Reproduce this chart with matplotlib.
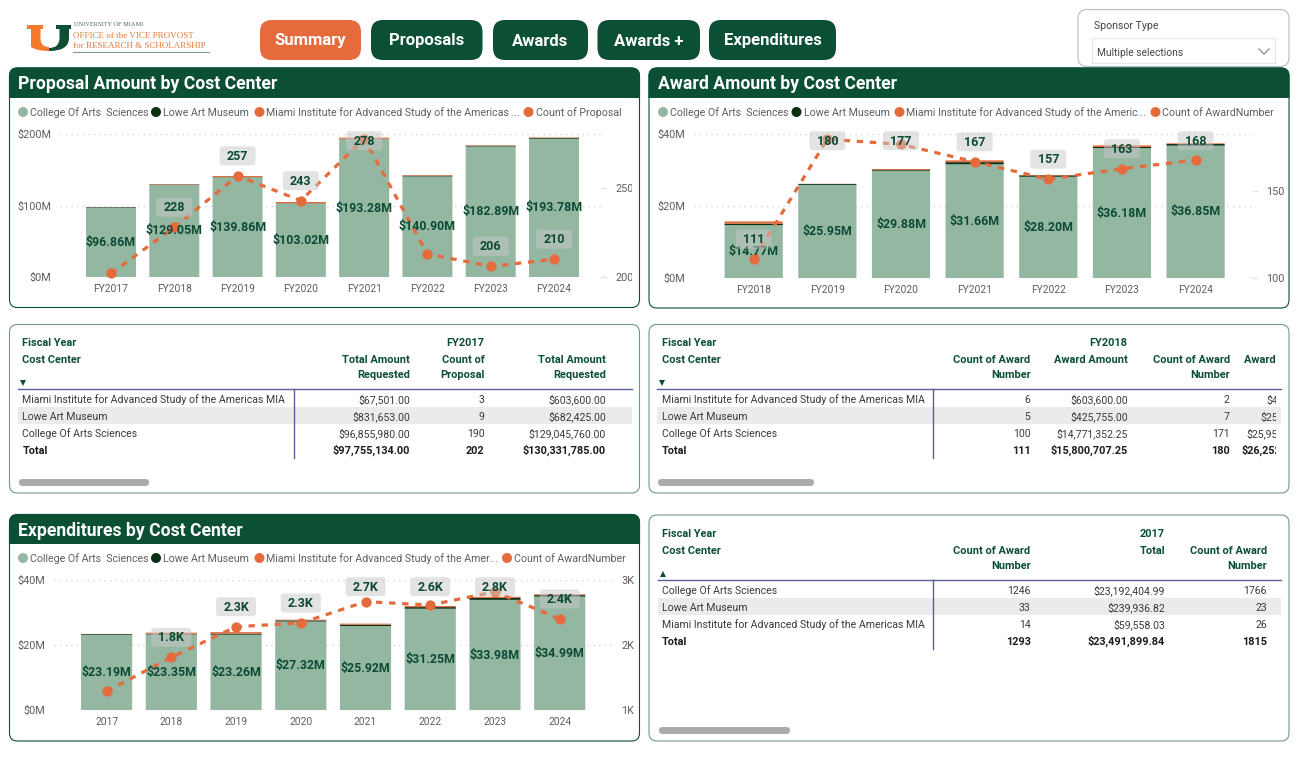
import matplotlib
matplotlib.use('Agg')
import matplotlib.pyplot as plt
from matplotlib.patches import FancyBboxPatch, PathPatch, Rectangle, Circle
from matplotlib.path import Path
from matplotlib.transforms import IdentityTransform
import numpy as np

W, H = 1303, 771
GREEN = '#0B5034'
ORANGE = '#E56B3D'
SAGE = '#94B7A2'
DARK = '#0A3014'
GREY = '#605E5C'

plt.rcParams['font.family'] = ['Roboto', 'DejaVu Sans']

# proposal chart
prop_years = ['FY2017', 'FY2018', 'FY2019', 'FY2020', 'FY2021', 'FY2022', 'FY2023', 'FY2024']
prop_college = [96.86, 129.05, 139.86, 103.02, 193.28, 140.90, 182.89, 193.78]
prop_lowe = [0.83, 0.68, 0.3, 0.4, 0.4, 1.2, 1.0, 1.1]
prop_miami = [0.07, 0.60, 1.4, 1.7, 1.6, 0.8, 0.7, 0.7]
prop_count = [202, 228, 257, 243, 278, 213, 206, 210]
prop_count_labels = [None, '228', '257', '243', '278', None, '206', '210']

# award chart
award_years = ['FY2018', 'FY2019', 'FY2020', 'FY2021', 'FY2022', 'FY2023', 'FY2024']
award_college = [14.77, 25.95, 29.88, 31.66, 28.20, 36.18, 36.85]
award_lowe = [0.43, 0.25, 0.2, 0.6, 0.4, 0.3, 0.45]
award_miami = [0.60, 0.05, 0.28, 0.5, 0.1, 0.45, 0.2]
award_count = [111, 180, 177, 167, 157, 163, 168]
award_count_labels = ['111', '180', '177', '167', '157', '163', '168']

# expenditures chart
exp_years = ['2017', '2018', '2019', '2020', '2021', '2022', '2023', '2024']
exp_college = [23.19, 23.35, 23.26, 27.32, 25.92, 31.25, 33.98, 34.99]
exp_lowe = [0.24, 0.2, 0.35, 0.35, 0.45, 0.5, 0.6, 0.45]
exp_miami = [0.06, 0.35, 0.45, 0.2, 0.3, 0.35, 0.35, 0.25]
exp_count = [1293, 1815, 2286, 2343, 2671, 2620, 2825, 2405]
exp_count_labels = [None, '1.8K', '2.3K', '2.3K', '2.7K', '2.6K', '2.8K', '2.4K']

# tables
miami_name = 'Miami Institute for Advanced Study of the Americas MIA'
prop_table = [
    [miami_name, '$67,501.00', '3', '$603,600.00'],
    ['Lowe Art Museum', '$831,653.00', '9', '$682,425.00'],
    ['College Of Arts Sciences', '$96,855,980.00', '190', '$129,045,760.00'],
    ['Total', '$97,755,134.00', '202', '$130,331,785.00'],
]
award_table = [
    [miami_name, '6', '$603,600.00', '2', '$45,000.00'],
    ['Lowe Art Museum', '5', '$425,755.00', '7', '$253,000.00'],
    ['College Of Arts Sciences', '100', '$14,771,352.25', '171', '$25,950,000.00'],
    ['Total', '111', '$15,800,707.25', '180', '$26,252,000.00'],
]
exp_table = [
    ['College Of Arts Sciences', '1246', '$23,192,404.99', '1766'],
    ['Lowe Art Museum', '33', '$239,936.82', '23'],
    [miami_name, '14', '$59,558.03', '26'],
    ['Total', '1293', '$23,491,899.84', '1815'],
]

fig = plt.figure(figsize=(W / 100, H / 100), dpi=100, facecolor='white')


def pixel_axes(zorder):
    a = fig.add_axes([0, 0, 1, 1], zorder=zorder)
    a.set_xlim(0, W)
    a.set_ylim(H, 0)
    a.axis('off')
    return a


back = pixel_axes(0)
top = pixel_axes(10)


def round_box(a, x0, y0, x1, y1, r, **kw):
    p = FancyBboxPatch((x0, y0), x1 - x0, y1 - y0,
                       boxstyle='round,pad=0,rounding_size=%g' % r, **kw)
    a.add_patch(p)
    return p


def pixel_clip(x0, y0, x1, y1):
    return Rectangle((x0, H - y1), x1 - x0, y1 - y0, transform=IdentityTransform())


def chart_panel(x0, y0, x1, y1, title):
    round_box(back, x0, y0, x1, y1, 8, fc='white', ec=GREEN, lw=0.8)
    head = round_box(back, x0, y0, x1, y1, 8, fc=GREEN, ec=GREEN, lw=0.8)
    head.set_clip_path(pixel_clip(x0 - 2, y0 - 2, x1 + 2, y0 + 29.5))
    back.text(x0 + 8.5, y0 + 21, title, color='white', fontsize=12.7, fontweight='bold',
              va='baseline', ha='left')


def legend(y, items):
    for (cx, label), c in zip(items, [SAGE, DARK, ORANGE, ORANGE]):
        back.add_patch(Circle((cx, y), 5, fc=c, ec='none'))
        back.text(cx + 7, y + 0.8, label, color=GREY, fontsize=7.7, va='center', ha='left')


def combo(box, first, last, years, college, lowe, miami, count, count_labels, ymax, yticks, yfmt,
          rlim, rticks, rlabels, bubble_w, bubble_top, tick_len=4.3, clip_right=None):
    x0, y0, x1, y1 = box
    ax = fig.add_axes([x0 / W, 1 - y1 / H, (x1 - x0) / W, (y1 - y0) / H], zorder=2)
    n = len(years)
    band = (last - first) / (n - 1)
    ax.set_xlim(-(first - x0) / band, n - 1 + (x1 - last) / band)
    ax.set_ylim(0, ymax)
    pos = np.arange(n)
    college = np.array(college)
    lowe = np.array(lowe)
    miami = np.array(miami)
    for vals, bottom, c in ((college, 0, SAGE), (lowe, college, DARK), (miami, college + lowe, ORANGE)):
        for bar in ax.bar(pos, vals, 0.79, bottom=bottom, color=c):
            bar.set_snap(False)
    ax.set_xticks(pos, years)
    ax.set_yticks(yticks, [yfmt % v for v in yticks])
    ax.tick_params(axis='x', length=0, pad=4.7, labelsize=7.4, labelcolor=GREY)
    ax.tick_params(axis='y', length=0, pad=6, labelsize=7.8, labelcolor=GREY)
    ax.yaxis.grid(True, linestyle=(0, (1, 3)), color='#D4D4D4', lw=1)
    ax.set_axisbelow(True)
    for sp in ax.spines.values():
        sp.set_visible(False)

    ax2 = ax.twinx()
    ax2.set_ylim(*rlim)
    ax2.set_yticks(rticks, rlabels)
    ax2.tick_params(axis='y', length=tick_len, width=1, color='#E2E2E2', pad=6.5,
                    labelsize=7.8, labelcolor=GREY)
    for sp in ax2.spines.values():
        sp.set_visible(False)
    if clip_right is not None:
        for lab in ax2.get_yticklabels():
            lab.set_clip_on(True)
            lab.set_clip_path(pixel_clip(x1, y0 - 10, clip_right, y1 + 10))
    ax2.plot(pos, count, color=ORANGE, lw=2.3, linestyle=(0, (2, 2.1)), clip_on=False, zorder=3)
    ax2.plot(pos, count, 'o', color=ORANGE, ms=7.4, mew=0, clip_on=False, zorder=4)

    # bar values sit in the middle of the college segment
    for i, v in enumerate(college):
        ax2.text(i, v / 2, '$%.2fM' % v, transform=ax.transData, color='#0B4A33',
                 fontsize=8.9, fontweight='bold', ha='center', va='center', zorder=5)

    # count bubbles, 20px over the point but kept under the plot top
    for i, lab in enumerate(count_labels):
        if lab is None:
            continue
        px, py = ax2.transData.transform((i, count[i]))
        py = H - py
        cy = max(py - 20, bubble_top)
        round_box(top, px - bubble_w / 2, cy - 9.5, px + bubble_w / 2, cy + 9.5, 3,
                  fc='#C8C8C8', ec='none', alpha=0.5)
        top.text(px, cy + 0.4, lab, color='#0B4A33', fontsize=9, fontweight='bold',
                 ha='center', va='center')
    return ax


def table_panel(x0, y0, x1, y1):
    round_box(back, x0, y0, x1, y1, 8, fc='white', ec='#6F9C87', lw=0.8)


def table(left, line_x1, vline, y_top, col_right, headers, top_label, top_right, rows, arrow, sb, clip_x=None):
    tx = left + 4.5
    clip = pixel_clip(left, y_top - 10, clip_x, y_top + 120) if clip_x else None

    def put(x, y, s, size, weight, color, ha='left'):
        # baseline anchored so "$" and plain digits line up
        t = back.text(x, y + 3.8, s, color=color, fontsize=size, fontweight=weight, va='baseline', ha=ha)
        if clip is not None and ha == 'right':
            t.set_clip_on(True)
            t.set_clip_path(clip)

    put(tx, y_top, 'Fiscal Year', 7.8, 'bold', GREEN)
    put(tx, y_top + 17, 'Cost Center', 7.9, 'bold', GREEN)
    put(top_right, y_top, top_label, 7.9, 'bold', GREEN, 'right')
    for xr, (h1, h2) in zip(col_right, headers):
        for dy, s in ((17, h1), (32, h2)):
            if s:
                put(xr, y_top + dy, s, 7.9, 'bold', GREEN, 'right')
    back.plot([tx + 0.5], [y_top + 41], arrow, color=GREEN, ms=4, mew=0)
    rule = y_top + 47
    back.plot([left, line_x1], [rule, rule], color='#5A5F96', lw=1)
    back.add_patch(Rectangle((left, rule + 17.7), line_x1 - left, 17, fc='#EBEBEB', ec='none'))
    back.plot([vline, vline], [rule, rule + 68.5], color='#5A5F96', lw=1)
    for r, row in enumerate(rows):
        y = rule + 10 + r * 17
        is_total = r == len(rows) - 1
        weight = 'bold' if is_total else 'normal'
        color = '#1C1C1C' if is_total else '#3A3A3A'
        size = 7.8 if is_total else 7.6
        put(tx, y, row[0], size, weight, color)
        for xr, s in zip(col_right, row[1:]):
            put(xr, y, s, size, weight, color, 'right')
    round_box(back, sb[0], sb[1], sb[2], sb[1] + 7, 3.5, fc='#ABABAB', ec='none')


# header strip: logo
back.add_patch(PathPatch(Path(
    [(27, 25), (43, 25), (43, 29), (40.5, 29), (40.5, 38), (40.5, 47), (49, 47), (49, 51),
     (37, 51), (31, 47), (31, 38), (31, 29), (27, 29), (27, 25)],
    [Path.MOVETO, Path.LINETO, Path.LINETO, Path.LINETO, Path.LINETO, Path.CURVE3, Path.CURVE3, Path.LINETO,
     Path.CURVE3, Path.CURVE3, Path.LINETO, Path.LINETO, Path.LINETO, Path.CLOSEPOLY]),
    fc='#F47B2C', ec='none'))
back.add_patch(PathPatch(Path(
    [(56, 25), (71, 25), (71, 29), (69, 29), (69, 38), (69, 51), (49, 51), (49, 48),
     (59.5, 48), (59.5, 38), (59.5, 29), (56, 29), (56, 25)],
    [Path.MOVETO, Path.LINETO, Path.LINETO, Path.LINETO, Path.LINETO, Path.CURVE3, Path.CURVE3, Path.LINETO,
     Path.CURVE3, Path.CURVE3, Path.LINETO, Path.LINETO, Path.CLOSEPOLY]),
    fc='#0B5034', ec='none'))
back.text(73.5, 25, 'UNIVERSITY OF MIAMI', family='Liberation Serif', color='#4D6B5C', fontsize=4.6, va='center')
back.text(73, 36, 'OFFICE of the VICE PROVOST', family='Liberation Serif', color='#E0783C', fontsize=6.5, va='center')
back.text(73, 45.5, 'for RESEARCH & SCHOLARSHIP', family='Liberation Serif', color='#E0783C', fontsize=6.45, va='center')
back.plot([73, 209], [52.3, 52.3], color='#7FA391', lw=0.8)

# nav buttons
buttons = [('Summary', 260, 361, ORANGE), ('Proposals', 371, 482.5, GREEN), ('Awards', 493, 588, GREEN),
           ('Awards +', 597.5, 700, GREEN), ('Expenditures', 709, 836, GREEN)]
for label, bx0, bx1, c in buttons:
    round_box(back, bx0, 20, bx1, 60, 12, fc=c, ec='none')
    back.text((bx0 + bx1) / 2, 45.5, label, color='white', fontsize=12, fontweight='bold',
              ha='center', va='baseline')

# slicer
round_box(back, 1078, 9.5, 1289, 66.5, 9, fc='white', ec='#BBBBBB', lw=0.8)
back.text(1094, 26, 'Sponsor Type', color='#444444', fontsize=7.6, va='center')
back.add_patch(Rectangle((1092, 38), 183, 24.5, fc='white', ec='#E8E8E8', lw=1))
back.text(1097, 52.8, 'Multiple selections', color='#444444', fontsize=7.4, va='center')
back.plot([1259, 1264, 1269], [49, 54, 49], color='#7C8A9A', lw=0.9)

# charts
chart_panel(9.5, 68, 639.5, 307.5, 'Proposal Amount by Cost Center')
legend(112, [(23, 'College Of Arts  Sciences'), (156, 'Lowe Art Museum'),
             (259.5, 'Miami Institute for Advanced Study of the Americas ...'), (528.5, 'Count of Proposal')])
combo((60, 134.3, 601, 277), 111, 554, prop_years, prop_college, prop_lowe, prop_miami,
      prop_count, prop_count_labels, 200, [0, 100, 200], '$%dM', (200, 280.4), [200, 250], ['200', '250'],
      36, 140.7, clip_right=631.5)

chart_panel(649, 68, 1289, 308, 'Award Amount by Cost Center')
legend(112, [(663, 'College Of Arts  Sciences'), (796.5, 'Lowe Art Museum'),
             (899.5, 'Miami Institute for Advanced Study of the Americ...'), (1155.5, 'Count of AwardNumber')])
combo((693.6, 134.3, 1251.6, 278.3), 753.7, 1195.6, award_years, award_college, award_lowe, award_miami,
      award_count, award_count_labels, 40, [0, 20, 40], '$%dM', (100, 182.8), [100, 150], ['100', '150'],
      36, 140.7)

chart_panel(9.5, 514.5, 639.5, 741, 'Expenditures by Cost Center')
legend(558, [(23, 'College Of Arts  Sciences'), (156, 'Lowe Art Museum'),
             (259.5, 'Miami Institute for Advanced Study of the Amer...'), (507, 'Count of AwardNumber')])
combo((54, 580.3, 612, 710.3), 106.6, 559.7, exp_years, exp_college, exp_lowe, exp_miami,
      exp_count, exp_count_labels, 40, [0, 20, 40], '$%dM', (1000, 3000), [1000, 2000, 3000], ['1K', '2K', '3K'],
      40, 586.7, tick_len=0)

# tables
table_panel(9.5, 324.5, 639.5, 493)
table(18, 631.5, 293.8, 342.3, [410, 484.6, 605.8],
      [('Total Amount', 'Requested'), ('Count of', 'Proposal'), ('Total Amount', 'Requested')],
      'FY2017', 484.6, prop_table, 'v', (19, 479, 149))

table_panel(649, 324.5, 1289, 493)
table(657, 1280.7, 932.6, 342.3, [1030.5, 1127.6, 1229.7, 1318],
      [('Count of Award', 'Number'), ('Award Amount', ''), ('Count of Award', 'Number'), ('Award Amount', '')],
      'FY2018', 1127.6, award_table, 'v', (658, 479, 814), clip_x=1275.7)

table_panel(649, 515, 1289, 741)
table(657.5, 1280.7, 933.4, 533, [1030.5, 1165, 1267],
      [('Count of Award', 'Number'), ('Total', ''), ('Count of Award', 'Number')],
      '2017', 1165, exp_table, '^', (659, 727, 790))

fig.savefig('out.png', dpi=100)
